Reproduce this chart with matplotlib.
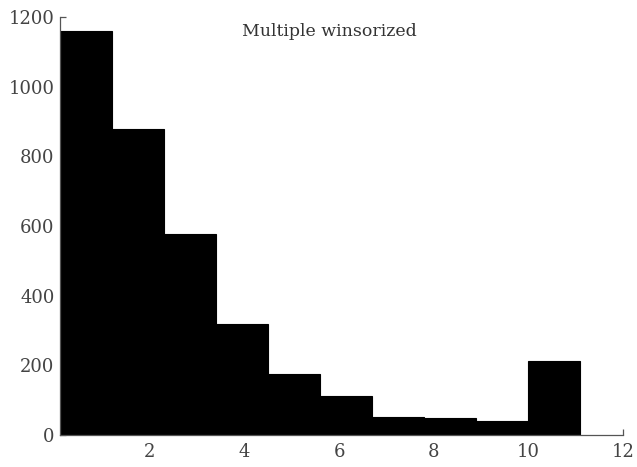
import numpy as np
import matplotlib
matplotlib.use("Agg")
import matplotlib.pyplot as plt

# Histogram bins (edges) and counts
bin_edges = [0.1, 1.2, 2.3, 3.4, 4.5, 5.6, 6.7, 7.8, 8.9, 10.0, 11.1]
counts = [1160, 878, 576, 319, 175, 113, 53, 48, 41, 213]
x_ticks = [2, 4, 6, 8, 10, 12]
y_ticks = [0, 200, 400, 600, 800, 1000, 1200]
title = "Multiple winsorized"

plt.rcParams['font.family'] = ['DejaVu Serif']

fig = plt.figure(figsize=(6.37, 4.67), dpi=100)
ax = fig.add_axes([0.0942, 0.0685, 0.8838, 0.8951])

widths = np.diff(bin_edges)
ax.bar(bin_edges[:-1], counts, width=widths, align="edge",
       color="black", edgecolor="black", linewidth=0.8, zorder=2)

ax.set_xlim(0.1, 12)
ax.set_ylim(0, 1200)
ax.set_xticks(x_ticks)
ax.set_yticks(y_ticks)

for side in ["top", "right"]:
    ax.spines[side].set_visible(False)
for side in ["left", "bottom"]:
    ax.spines[side].set_color("#555555")
    ax.spines[side].set_linewidth(0.9)

ax.tick_params(direction="in", length=4, width=0.9, colors="#555555",
               labelcolor="#444444", labelsize=13)
ax.tick_params(axis="x", pad=6)
ax.tick_params(axis="y", pad=4)

ax.text(0.478, 0.965, title, transform=ax.transAxes, ha="center", va="center",
        fontsize=12.5, color="#333333")

fig.savefig("out.png", dpi=100)
